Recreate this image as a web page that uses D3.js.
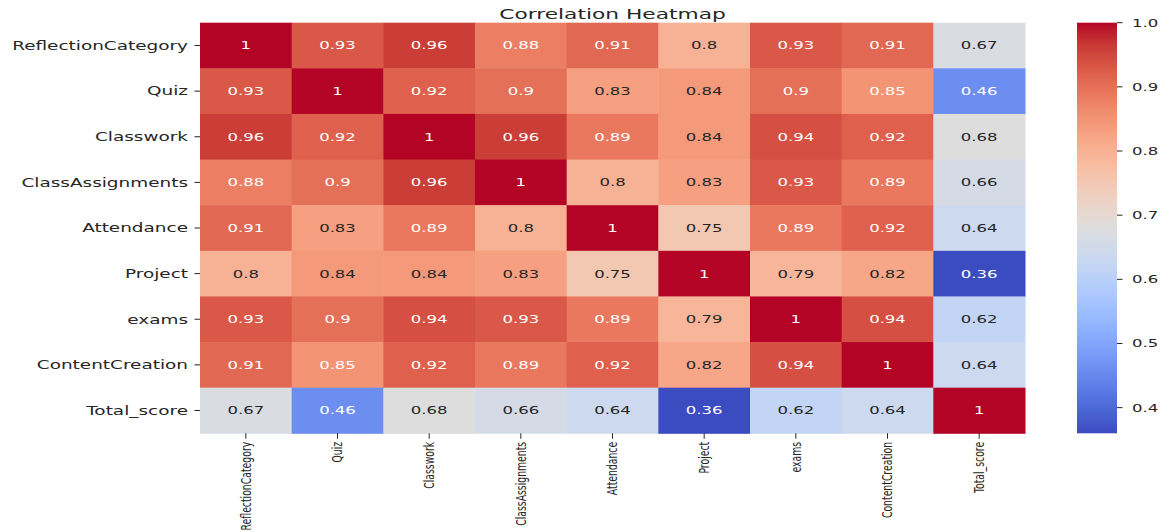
<!DOCTYPE html>
<html>
<head>
<meta charset="utf-8">
<script src="https://cdn.jsdelivr.net/npm/d3@7"></script>
<style>
  html, body { margin: 0; padding: 0; background: #ffffff; }
  svg { display: block; }
  text { font-family: "DejaVu Sans", sans-serif; }
</style>
</head>
<body>
<svg id="chart" width="1174" height="532"></svg>
<script>
// ---------------- data ----------------
const variables = ["ReflectionCategory", "Quiz", "Classwork", "ClassAssignments",
  "Attendance", "Project", "exams", "ContentCreation", "Total_score"];

const rowReflectionCategory = [1, 0.93, 0.96, 0.88, 0.91, 0.8, 0.93, 0.91, 0.67];
const rowQuiz               = [0.93, 1, 0.92, 0.9, 0.83, 0.84, 0.9, 0.85, 0.46];
const rowClasswork          = [0.96, 0.92, 1, 0.96, 0.89, 0.84, 0.94, 0.92, 0.68];
const rowClassAssignments   = [0.88, 0.9, 0.96, 1, 0.8, 0.83, 0.93, 0.89, 0.66];
const rowAttendance         = [0.91, 0.83, 0.89, 0.8, 1, 0.75, 0.89, 0.92, 0.64];
const rowProject            = [0.8, 0.84, 0.84, 0.83, 0.75, 1, 0.79, 0.82, 0.36];
const rowExams              = [0.93, 0.9, 0.94, 0.93, 0.89, 0.79, 1, 0.94, 0.62];
const rowContentCreation    = [0.91, 0.85, 0.92, 0.89, 0.92, 0.82, 0.94, 1, 0.64];
const rowTotalScore         = [0.67, 0.46, 0.68, 0.66, 0.64, 0.36, 0.62, 0.64, 1];

const colorbarTicks = [0.4, 0.5, 0.6, 0.7, 0.8, 0.9, 1.0];
const titleText = "Correlation Heatmap";

// coolwarm colormap anchor colours (Moreland diverging map)
const coolwarmStops = [
  [59,76,192],[68,90,204],[77,104,215],[87,117,225],[98,130,234],[108,142,241],
  [119,154,247],[130,165,251],[141,176,254],[152,185,255],[163,194,255],[174,201,253],
  [184,208,249],[194,213,244],[204,217,238],[213,219,230],[221,221,221],[229,216,209],
  [236,211,197],[241,204,185],[245,196,173],[247,187,160],[247,177,148],[247,166,135],
  [244,154,123],[241,141,111],[236,127,99],[229,112,88],[222,96,77],[213,80,66],
  [203,62,56],[192,40,47],[180,4,38]
];

// ---------------- build ----------------
(function () {
const matrix = [rowReflectionCategory, rowQuiz, rowClasswork, rowClassAssignments,
  rowAttendance, rowProject, rowExams, rowContentCreation, rowTotalScore];
const cells = [];
matrix.forEach((row, i) => row.forEach((v, j) => cells.push({ r: variables[i], c: variables[j], v })));

const allVals = matrix.flat();
const vmin = d3.min(allVals), vmax = d3.max(allVals);

const coolwarm = d3.piecewise(d3.interpolateRgb, coolwarmStops.map(s => d3.rgb(s[0], s[1], s[2])));
const color = d3.scaleSequential(coolwarm).domain([vmin, vmax]);

const SX = 1.5; // horizontal stretch of the text in the reference image
const textColor = "#262626";

const svg = d3.select("#chart");

const mLeft = 200, mRight = 1025, mTop = 22.7, mBottom = 433.3;
const x = d3.scaleBand().domain(variables).range([mLeft, mRight]).padding(0);
const y = d3.scaleBand().domain(variables).range([mTop, mBottom]).padding(0);

// cells
svg.append("g").selectAll("rect").data(cells).join("rect")
  .attr("x", d => x(d.c))
  .attr("y", d => y(d.r))
  .attr("width", x.bandwidth() + 0.5)
  .attr("height", y.bandwidth() + 0.5)
  .attr("fill", d => color(d.v));

function relLum(c) {
  const rgb = d3.rgb(c);
  const f = u => { u /= 255; return u <= 0.03928 ? u / 12.92 : Math.pow((u + 0.055) / 1.055, 2.4); };
  return 0.2126 * f(rgb.r) + 0.7152 * f(rgb.g) + 0.0722 * f(rgb.b);
}
function fmt(v) { return String(+v.toFixed(2)); }

// annotations
svg.append("g").selectAll("text").data(cells).join("text")
  .attr("transform", d => `translate(${x(d.c) + x.bandwidth() / 2},${y(d.r) + y.bandwidth() / 2}) scale(${SX},1)`)
  .attr("text-anchor", "middle")
  .attr("dominant-baseline", "central")
  .attr("font-size", 11)
  .attr("fill", d => relLum(color(d.v)) < 0.425 ? "#ffffff" : textColor)
  .text(d => fmt(d.v));

// y axis ticks + labels
const gy = svg.append("g");
gy.selectAll("line").data(variables).join("line")
  .attr("x1", mLeft - 5.5).attr("x2", mLeft)
  .attr("y1", d => y(d) + y.bandwidth() / 2).attr("y2", d => y(d) + y.bandwidth() / 2)
  .attr("stroke", textColor).attr("stroke-width", 1);
gy.selectAll("text").data(variables).join("text")
  .attr("transform", d => `translate(${mLeft - 12},${y(d) + y.bandwidth() / 2}) scale(${SX},1)`)
  .attr("text-anchor", "end")
  .attr("dominant-baseline", "central")
  .attr("font-size", 12.3)
  .attr("fill", textColor)
  .text(d => d);

// x axis ticks + labels (rotated)
const gx = svg.append("g");
gx.selectAll("line").data(variables).join("line")
  .attr("x1", d => x(d) + x.bandwidth() / 2).attr("x2", d => x(d) + x.bandwidth() / 2)
  .attr("y1", mBottom).attr("y2", mBottom + 5.5)
  .attr("stroke", textColor).attr("stroke-width", 1);
gx.selectAll("text").data(variables).join("text")
  .attr("transform", d => `translate(${x(d) + x.bandwidth() / 2},${mBottom + 8.5}) scale(${SX},1) rotate(-90)`)
  .attr("text-anchor", "end")
  .attr("dominant-baseline", "central")
  .attr("font-size", 9.3)
  .attr("fill", textColor)
  .text(d => d);

// title
svg.append("text")
  .attr("transform", `translate(${(mLeft + mRight) / 2},19) scale(${SX},1)`)
  .attr("text-anchor", "middle")
  .attr("font-size", 14.5)
  .attr("fill", textColor)
  .text(titleText);

// colorbar
const cbX = 1077, cbW = 40;
const cbScale = d3.scaleLinear().domain([vmin, vmax]).range([mBottom, mTop]);
const defs = svg.append("defs");
const grad = defs.append("linearGradient").attr("id", "cbgrad")
  .attr("x1", 0).attr("y1", 1).attr("x2", 0).attr("y2", 0);
d3.range(0, 1.0001, 0.02).forEach(t => {
  grad.append("stop").attr("offset", t).attr("stop-color", color(vmin + t * (vmax - vmin)));
});
svg.append("rect")
  .attr("x", cbX).attr("y", mTop).attr("width", cbW).attr("height", mBottom - mTop)
  .attr("fill", "url(#cbgrad)");
const gc = svg.append("g");
gc.selectAll("line").data(colorbarTicks).join("line")
  .attr("x1", cbX + cbW).attr("x2", cbX + cbW + 5.5)
  .attr("y1", d => cbScale(d)).attr("y2", d => cbScale(d))
  .attr("stroke", textColor).attr("stroke-width", 1);
gc.selectAll("text").data(colorbarTicks).join("text")
  .attr("transform", d => `translate(${cbX + cbW + 15},${cbScale(d)}) scale(${SX},1)`)
  .attr("text-anchor", "start")
  .attr("dominant-baseline", "central")
  .attr("font-size", 11)
  .attr("fill", textColor)
  .text(d => d.toFixed(1));
})();
</script>
</body>
</html>
